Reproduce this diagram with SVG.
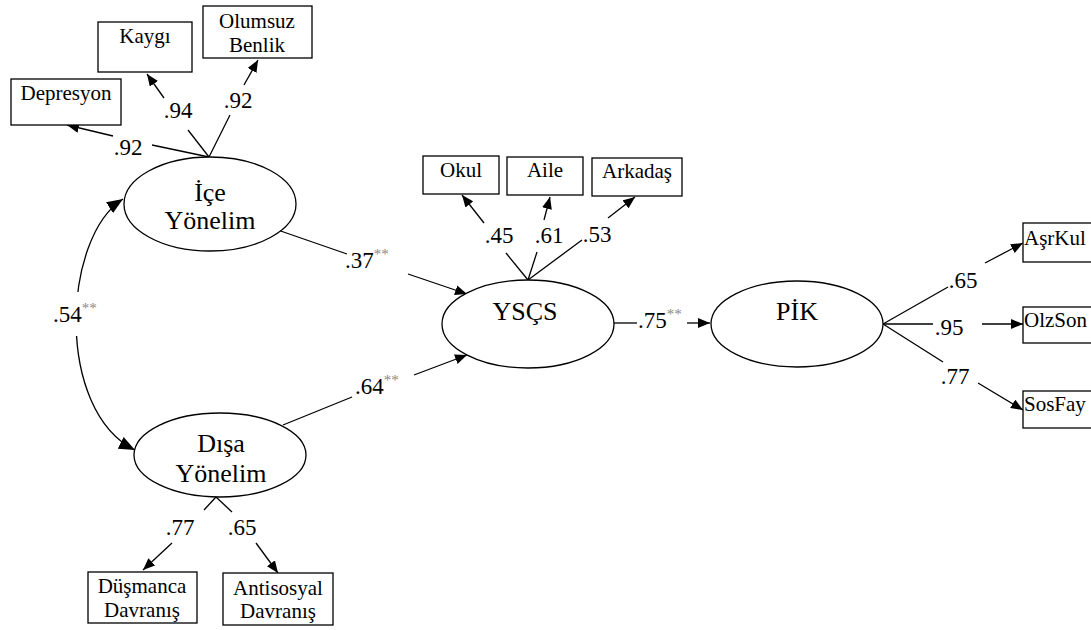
<svg xmlns="http://www.w3.org/2000/svg" width="1091" height="630" viewBox="0 0 1091 630">
<style>
.box{fill:#fff;stroke:#000;stroke-width:1.3}
.ell{fill:#fff;stroke:#000;stroke-width:1.3}
.ln{fill:none;stroke:#000;stroke-width:1.3}
.ar{fill:none;stroke:#000;stroke-width:1.3;marker-end:url(#ah)}
text{font-family:"Liberation Serif","Times New Roman",serif;fill:#000}
.bt{font-size:21px;text-anchor:middle}
.bl{font-size:21px}
.et{font-size:26px;text-anchor:middle}
.lb{font-size:23px}
.lbm{font-size:23px;text-anchor:middle}
.st{font-size:15px;fill:#888}
</style>
<defs>
<marker id="ah" viewBox="0 0 12 10" refX="12" refY="5" markerWidth="12" markerHeight="10" markerUnits="userSpaceOnUse" orient="auto"><path d="M0,0 L12,5 L0,10 z" fill="#000"/></marker>
<marker id="ahb" viewBox="0 0 16 13" refX="16" refY="6.5" markerWidth="16" markerHeight="13" markerUnits="userSpaceOnUse" orient="auto-start-reverse"><path d="M0,0 L16,6.5 L0,13 z" fill="#000"/></marker>
</defs>

<g id="connectors">
<path class="ln" d="M123,199 C62,238 55,410 135,450" style="marker-start:url(#ahb);marker-end:url(#ahb)"/>
<rect x="62" y="292" width="30" height="44" fill="#fff"/>
<line class="ln" x1="209" y1="157" x2="152" y2="145"/>
<line class="ar" x1="113" y1="136" x2="67" y2="125"/>
<line class="ln" x1="209" y1="157" x2="188" y2="130"/>
<line class="ar" x1="164" y1="98" x2="147" y2="74"/>
<line class="ln" x1="209" y1="157" x2="230" y2="115"/>
<line class="ar" x1="244" y1="85" x2="258" y2="60"/>
<line class="ln" x1="216" y1="497" x2="204" y2="510"/>
<line class="ar" x1="172" y1="543" x2="143" y2="570"/>
<line class="ln" x1="216" y1="497" x2="232" y2="512"/>
<line class="ar" x1="256" y1="543" x2="278" y2="573"/>
<line class="ln" x1="528" y1="280" x2="506" y2="253"/>
<line class="ar" x1="484" y1="223" x2="462" y2="195"/>
<line class="ln" x1="528" y1="280" x2="537" y2="252"/>
<line class="ar" x1="544" y1="220" x2="550" y2="197"/>
<line class="ln" x1="528" y1="280" x2="582" y2="240"/>
<line class="ar" x1="608" y1="218" x2="635" y2="197"/>
<line class="ln" x1="272" y1="228" x2="347" y2="254"/>
<line class="ar" x1="408" y1="274" x2="467" y2="294"/>
<line class="ln" x1="283" y1="425" x2="352" y2="397"/>
<line class="ar" x1="414" y1="375" x2="467" y2="355"/>
<line class="ln" x1="614" y1="323" x2="637" y2="323"/>
<line class="ar" x1="687" y1="323" x2="710" y2="323"/>
<line class="ln" x1="883" y1="324" x2="948" y2="287"/>
<line class="ar" x1="985" y1="263" x2="1023" y2="243"/>
<line class="ln" x1="883" y1="324" x2="933" y2="324"/>
<line class="ar" x1="982" y1="324" x2="1023" y2="324"/>
<line class="ln" x1="883" y1="324" x2="943" y2="362"/>
<line class="ar" x1="978" y1="383" x2="1023" y2="410"/>
</g>

<g id="labels">
<text class="lbm" x="128" y="155">.92</text>
<text class="lbm" x="178" y="118">.94</text>
<text class="lbm" x="238" y="108">.92</text>
<text class="lb" x="53" y="322">.54<tspan class="st" dy="-9">**</tspan></text>
<text class="lb" x="345" y="268">.37<tspan class="st" dy="-9">**</tspan></text>
<text class="lb" x="355" y="394">.64<tspan class="st" dy="-9">**</tspan></text>
<text class="lb" x="638" y="328">.75<tspan class="st" dy="-9">**</tspan></text>
<text class="lbm" x="499" y="243">.45</text>
<text class="lbm" x="549" y="243">.61</text>
<text class="lbm" x="597" y="242">.53</text>
<text class="lbm" x="963" y="288">.65</text>
<text class="lbm" x="949" y="335">.95</text>
<text class="lbm" x="955" y="384">.77</text>
<text class="lbm" x="180" y="535">.77</text>
<text class="lbm" x="242" y="535">.65</text>
</g>

<g id="node-kaygi"><rect class="box" x="98" y="22" width="94" height="50"/><text class="bt" x="145" y="43">Kaygı</text></g>
<g id="node-olumsuz"><rect class="box" x="203" y="6" width="109" height="52"/><text class="bt" x="257" y="28">Olumsuz</text><text class="bt" x="257" y="52">Benlik</text></g>
<g id="node-depresyon"><rect class="box" x="11" y="79" width="110" height="46"/><text class="bt" x="66" y="100">Depresyon</text></g>
<g id="node-ice"><ellipse class="ell" cx="210" cy="204" rx="86" ry="47"/><text class="et" x="210" y="201">İçe</text><text class="et" x="210" y="229">Yönelim</text></g>
<g id="node-disa"><ellipse class="ell" cx="220" cy="455" rx="86" ry="42"/><text class="et" x="221" y="452">Dışa</text><text class="et" x="221" y="482">Yönelim</text></g>
<g id="node-dusmanca"><rect class="box" x="88" y="572" width="109" height="51"/><text class="bt" x="142" y="593">Düşmanca</text><text class="bt" x="142" y="617">Davranış</text></g>
<g id="node-antisosyal"><rect class="box" x="223" y="573" width="110" height="52"/><text class="bt" x="278" y="595">Antisosyal</text><text class="bt" x="278" y="618">Davranış</text></g>
<g id="node-okul"><rect class="box" x="423" y="156" width="76" height="38"/><text class="bt" x="461" y="177">Okul</text></g>
<g id="node-aile"><rect class="box" x="507" y="157" width="76" height="38"/><text class="bt" x="545" y="177">Aile</text></g>
<g id="node-arkadas"><rect class="box" x="592" y="158" width="90" height="38"/><text class="bt" x="637" y="178">Arkadaş</text></g>
<g id="node-yscs"><ellipse class="ell" cx="528" cy="324" rx="86" ry="44"/><text class="et" x="525" y="320">YSÇS</text></g>
<g id="node-pik"><ellipse class="ell" cx="797" cy="324" rx="86" ry="43"/><text class="et" x="797" y="320">PİK</text></g>
<g id="node-asrkul"><rect class="box" x="1023" y="223" width="75" height="39"/><text class="bl" x="1024" y="245">AşrKul</text></g>
<g id="node-olzson"><rect class="box" x="1023" y="307" width="75" height="36"/><text class="bl" x="1024" y="327">OlzSon</text></g>
<g id="node-sosfay"><rect class="box" x="1023" y="391" width="75" height="37"/><text class="bl" x="1024" y="411">SosFay</text></g>
</svg>
